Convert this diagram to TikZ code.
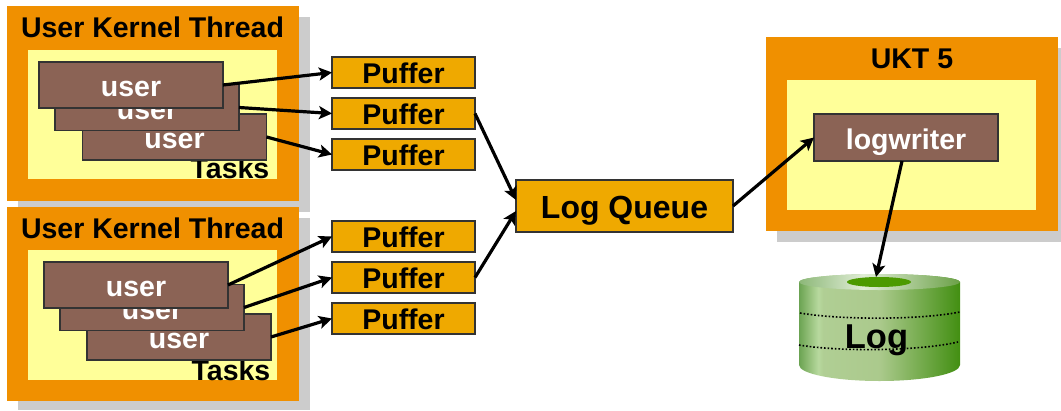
\documentclass[tikz,border=0pt]{standalone}
\usepackage{fontspec}
\setmainfont{Liberation Sans}
\usetikzlibrary{arrows.meta}
\usetikzlibrary{shapes.geometric}

\pgfdeclarehorizontalshading{cylbody}{100bp}{
    rgb(0bp)=(0.42,0.64,0.32); rgb(25bp)=(0.42,0.64,0.32);
    rgb(31bp)=(0.72,0.85,0.62); rgb(32.5bp)=(0.69,0.81,0.58);
    rgb(50bp)=(0.67,0.79,0.55); rgb(75bp)=(0.26,0.56,0.07); rgb(100bp)=(0.26,0.56,0.07)}
\pgfdeclarehorizontalshading{cyltop}{100bp}{
    rgb(0bp)=(0.55,0.72,0.47); rgb(25bp)=(0.55,0.72,0.47);
    rgb(45bp)=(0.88,0.93,0.84); rgb(75bp)=(0.42,0.63,0.28); rgb(100bp)=(0.42,0.63,0.28)}

\begin{document}
\begin{tikzpicture}[x=1pt, y=-1pt,
    %Option for nice arrows
    >={Stealth[length=13pt,width=13pt,inset=3pt]}, %
    inner sep=0pt, outer sep=0pt,%
    flow/.style={line width=3.2pt,->,black},
    shadowbox/.style={fill=shadowgrey},
    frame/.style={fill=frameorange, anchor=north west},
    innerbox/.style={fill=inneryellow, anchor=north west},
    taskbox/.style={draw=boxline, line width=1.1pt, fill=taskbrown, text=white,
        minimum width=184pt, minimum height=46pt, text height=23pt, text depth=0pt,
        font=\fontsize{28.5}{30}\bfseries\selectfont},
    pufferbox/.style={draw=boxline, line width=1.1pt, fill=puffergold,
        minimum width=143pt, minimum height=31pt, text height=22pt, text depth=0pt,
        font=\fontsize{28.5}{30}\bfseries\selectfont},
    title/.style={anchor=base, font=\fontsize{28.5}{30}\bfseries\selectfont},
]
    % Colors
    \definecolor{shadowgrey}{HTML}{CCCCCC}
    \definecolor{frameorange}{HTML}{F09000}
    \definecolor{inneryellow}{HTML}{FFFF99}
    \definecolor{taskbrown}{HTML}{8B6355}
    \definecolor{puffergold}{HTML}{EFA900}
    \definecolor{boxline}{HTML}{333333}
    \definecolor{holegreen}{HTML}{4C9A00}

    \useasboundingbox (0,0) rectangle (1061,410);

    % First thread
    \fill[shadowbox] (18,17) rectangle (310,212);
    \node[frame, minimum width=292pt, minimum height=195pt] (frameA) at (7,6) {};
    \node[title] (titleA) at (152.5,37) {User Kernel Thread};
    \node[innerbox, minimum width=249pt, minimum height=129pt] (innerA) at (28,50) {};
    \node[title] (tasksA) at (230,178) {Tasks};
    \node[taskbox] (userAc) at (174.5,137) {user};
    \node[taskbox] (userAb) at (147,107.5) {user};
    \node[taskbox] (userAa) at (131,85) {user};

    % Second thread
    \fill[shadowbox] (18,218) rectangle (310,410);
    \node[frame, minimum width=292pt, minimum height=194pt] (frameB) at (7,207) {};
    \node[title] (titleB) at (152.5,238) {User Kernel Thread};
    \node[innerbox, minimum width=249pt, minimum height=130pt] (innerB) at (28,250) {};
    \node[title] (tasksB) at (231,380) {Tasks};
    \node[taskbox] (userBc) at (179,337) {user};
    \node[taskbox] (userBb) at (152,307.5) {user};
    \node[taskbox] (userBa) at (136,285) {user};

    % Puffers
    \node[pufferbox] (pufferA) at (403.5,72.5) {Puffer};
    \node[pufferbox] (pufferB) at (403.5,113.5) {Puffer};
    \node[pufferbox] (pufferC) at (403.5,154.5) {Puffer};
    \node[pufferbox] (pufferD) at (403.5,236.5) {Puffer};
    \node[pufferbox] (pufferE) at (403.5,277.5) {Puffer};
    \node[pufferbox] (pufferF) at (403.5,318.5) {Puffer};

    \node[pufferbox, minimum width=217pt, minimum height=52pt, text height=24pt,
        font=\fontsize{32}{34}\bfseries\selectfont] (queue) at (624.5,206) {Log Queue};

    % UKT 5
    \fill[shadowbox] (777,48) rectangle (1061,242);
    \node[frame, minimum width=292pt, minimum height=194pt] (frameC) at (766,37) {};
    \node[title] (titleC) at (912,68) {UKT 5};
    \node[innerbox, minimum width=249pt, minimum height=130pt] (innerC) at (787,80) {};
    \node[taskbox, minimum height=47pt] (logwriter) at (906,137.5) {logwriter};

    % Log volume
    \shade[shading=cylbody] (799,282) -- (799,365)
        arc[start angle=180, end angle=360, x radius=80.5pt, y radius=16pt]
        -- (960,282) arc[start angle=0, end angle=180, x radius=80.5pt, y radius=8pt] -- cycle;
    \shade[shading=cyltop] (879.5,282) ellipse [x radius=80.5pt, y radius=8pt];
    \node[ellipse, fill=holegreen, minimum width=64pt, minimum height=10pt] (hole) at (879,282) {};
    \draw[dotted, line width=1.6pt] (800,313) .. controls (840,320) and (920,320) .. (960,312);
    \draw[dotted, line width=1.6pt] (799,345) .. controls (840,352) and (920,351) .. (958,342);
    \node[title, font=\fontsize{34.5}{36}\bfseries\selectfont] (log) at (876.5,348) {Log};

    % Connectors
    \draw[flow] (userAa.east) -- (pufferA.west);
    \draw[flow] (userAb.east) -- (pufferB.west);
    \draw[flow] (userAc.east) -- (pufferC.west);
    \draw[flow] (userBa.east) -- (pufferD.west);
    \draw[flow] (userBb.east) -- (pufferE.west);
    \draw[flow] (userBc.east) -- (pufferF.west);
    \draw[flow] (pufferB.east) -- ([yshift=6pt]queue.west);
    \draw[flow] (pufferE.east) -- ([yshift=-5pt]queue.west);
    \draw[flow] (queue.east) -- (logwriter.west);
    \draw[flow] ([xshift=-4pt]logwriter.south) -- ([xshift=-3pt]hole.north);
\end{tikzpicture}
\end{document}
